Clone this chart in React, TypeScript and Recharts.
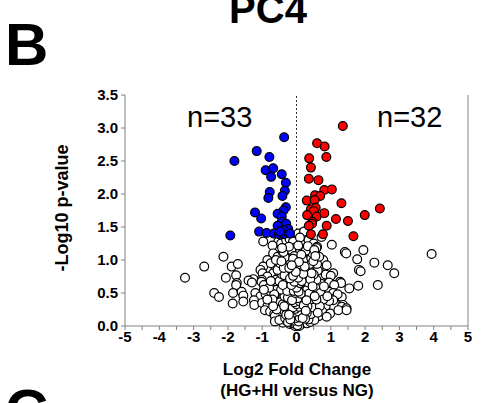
import { ScatterChart, Scatter, XAxis, YAxis, ReferenceLine } from 'recharts';

// log2 fold change / -log10 p-value pairs
const downRegulated: [number, number][] = [
  [-0.36, 2.86], [-1.81, 2.5], [-1.16, 2.65], [-0.79, 2.56], [-0.9, 2.36], [-0.68, 2.39],
  [-0.74, 2.26], [-0.43, 2.3], [-0.31, 2.17], [-0.34, 2.05], [-0.78, 2.03], [-0.82, 1.94],
  [-0.41, 1.97], [-0.31, 1.8], [-0.38, 1.75], [-1.21, 1.72], [-1.03, 1.63], [-0.55, 1.7],
  [-0.43, 1.66], [-0.43, 1.58], [-0.3, 1.55], [-0.55, 1.52], [-1.93, 1.37], [-1.09, 1.43],
  [-0.87, 1.41], [-0.66, 1.4], [-0.51, 1.39], [-0.36, 1.39], [-0.24, 1.41], [-0.24, 1.47],
  [-0.38, 1.45], [-0.19, 1.4], [-0.48, 1.43],
];

const upRegulated: [number, number][] = [
  [1.35, 3.03], [0.6, 2.77], [0.82, 2.72], [0.37, 2.54], [0.87, 2.56], [0.42, 2.4],
  [0.36, 2.23], [0.64, 2.21], [0.81, 2.06], [1.03, 2.07], [0.54, 1.98], [0.69, 1.97],
  [0.3, 1.9], [0.53, 1.91], [1.31, 1.86], [2.43, 1.78], [0.42, 1.77], [0.56, 1.79],
  [0.5, 1.74], [0.31, 1.68], [0.59, 1.66], [0.81, 1.71], [1.99, 1.68], [1.15, 1.62],
  [1.5, 1.59], [0.46, 1.58], [0.45, 1.55], [0.36, 1.52], [0.88, 1.52], [0.42, 1.39],
  [0.77, 1.39], [1.66, 1.36],
];

const notSignificant: [number, number][] = [
  // 1.2 - 1.45
  [-0.97, 1.28], [-0.53, 1.28], [-0.45, 1.25], [-0.3, 1.3], [-0.2, 1.32], [-0.1, 1.28],
  [0.05, 1.4], [0.22, 1.43], [0.15, 1.24], [0.2, 1.23], [0.35, 1.3], [0.5, 1.25],
  [0.73, 1.35], [1.03, 1.23], [0.6, 1.2], [-0.7, 1.22], [0.1, 1.34], [-0.05, 1.18],
  // 1.0 - 1.2
  [-2.13, 1.05], [-0.68, 1.1], [-0.55, 1.05], [-0.4, 1.12], [-0.25, 1.02], [-0.15, 1.15],
  [0.08, 1.1], [0.25, 1.05], [0.4, 1.12], [0.58, 1.18], [0.78, 1.0], [1.41, 1.12],
  [1.45, 1.1], [1.95, 1.15], [1.77, 1.01], [3.94, 1.09], [-0.85, 1.0], [0.3, 1.0],
  [-0.35, 1.0], [0.12, 1.0],
  // 0.85 - 1.0
  [-2.69, 0.9], [-1.89, 0.9], [-1.71, 0.94], [-0.97, 0.9], [-0.62, 0.9], [-0.53, 0.92],
  [-0.4, 0.88], [-0.22, 0.95], [-0.12, 0.9], [0.05, 0.92], [0.18, 0.88], [0.35, 0.95],
  [0.52, 0.9], [0.65, 0.88], [0.88, 0.92], [2.27, 0.96], [2.66, 0.92], [1.82, 0.85],
  [1.87, 0.83], [-0.75, 0.95], [-0.3, 0.85], [0.45, 0.86], [-1.05, 0.85],
  // 0.7 - 0.85
  [-3.25, 0.73], [-2.06, 0.73], [-1.76, 0.77], [-1.26, 0.71], [-0.99, 0.8], [-0.68, 0.8],
  [-0.85, 0.75], [-0.5, 0.78], [-0.38, 0.72], [-0.28, 0.8], [-0.15, 0.75], [-0.05, 0.82],
  [0.08, 0.78], [0.2, 0.72], [0.3, 0.8], [0.42, 0.75], [0.55, 0.8], [0.7, 0.72],
  [0.85, 0.78], [1.07, 0.8], [1.0, 0.76], [2.85, 0.8], [-1.01, 0.7], [-0.6, 0.7],
  [0.62, 0.84], [-0.45, 0.84],
  // 0.55 - 0.7
  [-1.74, 0.65], [-1.76, 0.62], [-1.4, 0.69], [-1.3, 0.66], [-1.02, 0.67], [-0.87, 0.55],
  [-0.78, 0.62], [-0.65, 0.58], [-0.55, 0.65], [-0.42, 0.6], [-0.32, 0.68], [-0.22, 0.58],
  [-0.12, 0.65], [-0.04, 0.6], [0.06, 0.66], [0.15, 0.58], [0.25, 0.64], [0.36, 0.58],
  [0.48, 0.66], [0.6, 0.6], [0.72, 0.64], [0.85, 0.58], [0.95, 0.66], [1.27, 0.67],
  [1.3, 0.65], [1.54, 0.57], [1.8, 0.61], [2.37, 0.62], [1.1, 0.62], [-0.95, 0.62],
  // 0.4 - 0.55
  [-2.4, 0.5], [-2.26, 0.44], [-1.85, 0.5], [-1.6, 0.52], [-1.55, 0.46], [-1.2, 0.5],
  [-1.05, 0.45], [-0.9, 0.48], [-0.75, 0.52], [-0.62, 0.44], [-0.5, 0.5], [-0.4, 0.42],
  [-0.3, 0.52], [-0.2, 0.46], [-0.1, 0.5], [0.0, 0.44], [0.1, 0.52], [0.18, 0.45],
  [0.28, 0.5], [0.38, 0.43], [0.5, 0.52], [0.6, 0.46], [0.72, 0.5], [0.82, 0.44],
  [0.95, 0.52], [1.07, 0.5], [1.12, 0.42], [1.32, 0.44], [1.2, 0.48], [-0.05, 0.54],
  [0.42, 0.55], [-0.58, 0.55],
  // 0.25 - 0.4
  [-1.86, 0.34], [-1.55, 0.37], [-1.24, 0.39], [-1.23, 0.32], [-1.0, 0.35], [-0.85, 0.3],
  [-0.72, 0.38], [-0.6, 0.32], [-0.48, 0.36], [-0.38, 0.28], [-0.28, 0.38], [-0.2, 0.3],
  [-0.12, 0.36], [-0.05, 0.28], [0.03, 0.38], [0.1, 0.3], [0.18, 0.36], [0.26, 0.28],
  [0.34, 0.38], [0.42, 0.3], [0.52, 0.36], [0.62, 0.28], [0.72, 0.36], [0.85, 0.3],
  [1.07, 0.39], [1.35, 0.32], [1.32, 0.29], [1.46, 0.27], [0.95, 0.38],
  // 0.1 - 0.25
  [-0.92, 0.24], [-0.77, 0.22], [-0.65, 0.18], [-0.55, 0.24], [-0.45, 0.15], [-0.35, 0.22],
  [-0.25, 0.14], [-0.18, 0.2], [-0.1, 0.12], [-0.04, 0.22], [0.02, 0.15], [0.08, 0.24],
  [0.14, 0.12], [0.2, 0.2], [0.28, 0.15], [0.36, 0.22], [0.45, 0.14], [0.55, 0.2],
  [0.65, 0.15], [0.75, 0.22], [0.98, 0.19], [1.22, 0.24], [1.46, 0.24], [0.88, 0.14],
  [-0.63, 0.15],
  // 0 - 0.1
  [-0.63, 0.07], [-0.4, 0.05], [-0.3, 0.08], [-0.2, 0.03], [-0.15, 0.07], [-0.08, 0.02],
  [-0.05, 0.06], [0.0, 0.01], [0.03, 0.05], [0.06, 0.02], [0.1, 0.07], [0.15, 0.03],
  [0.22, 0.08], [0.3, 0.04], [0.4, 0.06], [0.52, 0.09], [-0.5, 0.09], [0.01, 0.03],
  [-0.02, 0.04], [0.04, 0.09],
  // dense core of the volcano
  [-0.02, 0.02], [0.02, 0.06], [-0.06, 0.05], [0.05, 0.12], [-0.09, 0.11], [0.0, 0.16],
  [-0.04, 0.2], [0.07, 0.19], [-0.12, 0.17], [0.11, 0.25], [-0.07, 0.27], [0.03, 0.3],
  [-0.15, 0.31], [0.14, 0.33], [-0.1, 0.4], [0.06, 0.41], [0.17, 0.42], [-0.18, 0.45],
  [-0.03, 0.47], [0.21, 0.51], [-0.13, 0.55], [0.09, 0.57], [-0.21, 0.61], [0.24, 0.6],
  [0.01, 0.63], [-0.16, 0.7], [0.28, 0.69], [0.12, 0.72], [-0.24, 0.77], [0.32, 0.77],
  [-0.08, 0.79], [0.15, 0.85], [-0.27, 0.86], [0.36, 0.86], [0.02, 0.88], [-0.31, 0.93],
  [0.39, 0.94], [-0.18, 0.97], [0.2, 1.0], [-0.34, 1.04], [0.43, 1.03], [-0.06, 1.06],
  [0.47, 1.1], [-0.38, 1.12], [0.27, 1.14], [-0.22, 1.2], [0.05, 1.22], [-0.42, 1.18],
  [0.33, 1.21], [0.52, 1.15],
  [0.35, 0.1], [0.42, 0.18], [0.48, 0.28], [0.4, 0.4], [0.46, 0.48], [0.55, 0.58],
  [0.38, 0.62], [0.58, 0.7], [0.5, 0.78], [0.6, 0.94], [0.66, 1.05], [0.7, 0.5],
  [0.78, 0.4], [0.8, 0.6], [0.9, 0.45], [0.68, 0.3], [0.58, 0.4], [0.62, 0.2],
  [-0.33, 0.12], [-0.28, 0.25], [-0.4, 0.33], [-0.35, 0.45], [-0.45, 0.55], [-0.32, 0.6],
  [-0.5, 0.68], [-0.42, 0.78], [-0.55, 0.85], [-0.48, 0.95], [-0.6, 1.0], [-0.65, 0.48],
  [-0.7, 0.4], [-0.8, 0.58], [-0.75, 0.68], [-0.85, 0.4], [-0.95, 0.55], [-0.58, 0.25],
  [-0.68, 0.3],
  // black centre column and arms
  [-0.01, 0.08], [0.01, 0.11], [-0.03, 0.14], [0.04, 0.17], [-0.05, 0.23], [0.02, 0.26],
  [-0.08, 0.33], [0.05, 0.35], [-0.02, 0.38], [0.08, 0.46], [-0.06, 0.43], [0.0, 0.51],
  [-0.09, 0.58], [0.04, 0.55], [-0.02, 0.7], [0.07, 0.63], [-0.11, 0.66], [0.03, 0.76],
  [-0.13, 0.83], [0.09, 0.82], [-0.04, 0.95], [0.11, 0.93], [-0.1, 1.02], [0.14, 1.08],
  [0.0, 0.0], [-0.04, 0.0], [0.05, 0.03], [-0.1, 0.04], [0.08, 0.0], [-0.13, 0.09],
  [0.12, 0.14], [-0.16, 0.14], [0.16, 0.19], [-0.2, 0.24], [0.19, 0.27], [-0.23, 0.35],
  [0.23, 0.37], [-0.25, 0.43], [0.26, 0.44], [-0.27, 0.53], [0.31, 0.55], [-0.29, 0.7],
  [0.34, 0.66], [-0.35, 0.77], [0.4, 0.71], [-0.37, 0.88], [0.44, 0.8], [-0.44, 0.98],
  [0.49, 0.98], [0.55, 1.06], [0.32, 0.3], [0.3, 0.2], [0.25, 0.11], [-0.25, 0.06],
  [-0.3, 0.17], [-0.36, 0.3], [0.37, 0.49], [-0.4, 0.62], [0.47, 0.6], [0.53, 0.45],
  [-0.03, 0.03], [0.03, 0.01], [-0.07, 0.08], [0.06, 0.07], [-0.01, 0.12], [0.02, 0.19],
  [-0.06, 0.16], [0.09, 0.13], [-0.09, 0.2], [0.05, 0.22], [-0.03, 0.26], [0.07, 0.29],
  [-0.11, 0.28], [0.0, 0.33], [-0.06, 0.36], [0.1, 0.37], [0.03, 0.42], [-0.13, 0.39],
  [-0.04, 0.5], [0.12, 0.49], [-0.08, 0.53], [0.06, 0.52], [0.0, 0.58], [-0.15, 0.62],
  [0.1, 0.65], [-0.06, 0.67], [0.15, 0.68], [-0.19, 0.72], [0.05, 0.73], [-0.1, 0.76],
  [0.2, 0.79], [-0.02, 0.82], [-0.21, 0.88], [0.24, 0.9], [0.07, 0.97], [-0.14, 0.92],
  [0.18, 0.12], [-0.18, 0.1], [0.21, 0.31], [-0.22, 0.17], [0.27, 0.23], [0.29, 0.39],
];

const xTicks = [-5, -4.5, -4, -3.5, -3, -2.5, -2, -1.5, -1, -0.5, 0, 0.5, 1, 1.5, 2, 2.5, 3, 3.5, 4, 4.5, 5];
const yTicks = [0, 0.5, 1, 1.5, 2, 2.5, 3, 3.5];

const toRows = (pts: [number, number][]) => pts.map(([x, y]) => ({ x, y }));

const FONT = '"Liberation Sans", Arial, sans-serif';
const AXIS = '#808080';

function dot(fill: string) {
  return (props: any) => (
    <circle cx={props.cx} cy={props.cy} r={4.4} fill={fill} stroke="#000" strokeWidth={1.2} />
  );
}

export default function App() {
  return (
    <div style={{ position: 'absolute', left: 0, top: 0, width: 487, height: 403, overflow: 'hidden', background: '#fff' }}>
      <ScatterChart width={487} height={403} margin={{ top: 95, right: 19, bottom: 47, left: 85 }}>
        <XAxis
          type="number"
          dataKey="x"
          domain={[-5, 5]}
          ticks={xTicks}
          interval={0}
          height={30}
          tickFormatter={(v: number) => (Number.isInteger(v) ? String(v) : '')}
          stroke={AXIS}
          tickSize={4}
          tickMargin={1}
          tick={{ fill: '#000', fontSize: 15, fontWeight: 700, fontFamily: FONT }}
        />
        <YAxis
          type="number"
          dataKey="y"
          domain={[0, 3.5]}
          ticks={yTicks}
          interval={0}
          width={40}
          tickFormatter={(v: number) => v.toFixed(1)}
          stroke={AXIS}
          tickSize={4}
          tickMargin={3}
          tick={{ fill: '#000', fontSize: 15, fontWeight: 700, fontFamily: FONT }}
        />
        <ReferenceLine x={0} stroke="#333" strokeDasharray="2 2" strokeWidth={1} />
        <ReferenceLine x={5} stroke={AXIS} strokeWidth={1} />
        <Scatter data={toRows(notSignificant)} shape={dot('#fff')} isAnimationActive={false} />
        <Scatter data={toRows(downRegulated)} shape={dot('#0000ff')} isAnimationActive={false} />
        <Scatter data={toRows(upRegulated)} shape={dot('#ff0000')} isAnimationActive={false} />
      </ScatterChart>
      <svg width={487} height={403} style={{ position: 'absolute', left: 0, top: 0, pointerEvents: 'none' }}>
        <g fontFamily={FONT} fill="#000">
          <text x={268} y={23} fontSize={40} fontWeight={700} textAnchor="middle">PC4</text>
          <text x={5} y={65} fontSize={60} fontWeight={700}>B</text>
          <text x={5} y={431} fontSize={60} fontWeight={700}>C</text>
          <text x={187} y={127} fontSize={29}>n=33</text>
          <text x={377} y={127} fontSize={29}>n=32</text>
          <text x={297} y={375} fontSize={17} fontWeight={700} textAnchor="middle">Log2 Fold Change</text>
          <text x={297} y={396} fontSize={17} fontWeight={700} textAnchor="middle">(HG+HI versus NG)</text>
          <text x={68} y={208} fontSize={18} fontWeight={700} textAnchor="middle" transform="rotate(-90 68 208)">
            -Log10 p-value
          </text>
        </g>
      </svg>
    </div>
  );
}
